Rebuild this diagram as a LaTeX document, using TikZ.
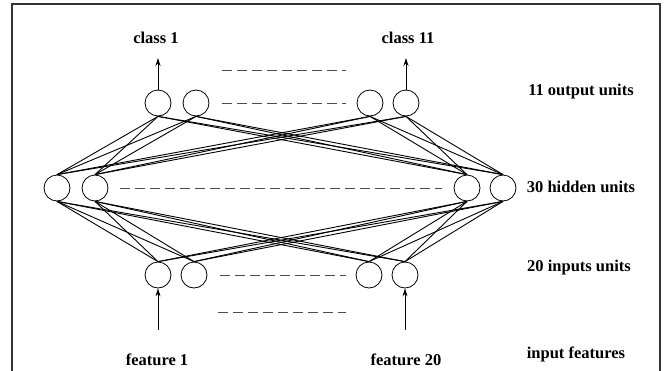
\documentclass[tikz,border=0pt]{standalone}
\usepackage{fontspec}
\setmainfont{Liberation Serif}
\usetikzlibrary{arrows.meta}
\begin{document}
\begin{tikzpicture}[x=1pt,y=-1pt,
  unit/.style={circle,draw,line width=0.8pt,minimum size=26pt,inner sep=0pt},
  link/.style={line width=0.9pt},
  io/.style={line width=0.8pt,-{Stealth[length=8pt,width=5pt]}},
  gap/.style={dashed,dash pattern=on 10pt off 5pt,line width=0.6pt,black!70},
  lbl/.style={font=\fontsize{16.5}{18}\selectfont\bfseries,inner sep=0pt}]
\useasboundingbox (0,0) rectangle (668,370);
% frame
\draw[line width=1.1pt,black!80] (12,372) -- (12,4) -- (660,4) -- (660,372);
% output layer
\node[unit] (o1) at (158,103) {};
\node[unit] (o2) at (196,103) {};
\node[unit] (o3) at (370,103) {};
\node[unit] (o4) at (406,103) {};
% hidden layer
\node[unit] (h1) at (57,188) {};
\node[unit] (h2) at (95,188) {};
\node[unit] (h3) at (467,188) {};
\node[unit] (h4) at (503,188) {};
% input layer
\node[unit] (i1) at (158,275) {};
\node[unit] (i2) at (194,275) {};
\node[unit] (i3) at (369,275) {};
\node[unit] (i4) at (405,275) {};
% full connections
\foreach \o in {o1,o2,o3,o4}
  \foreach \h in {h1,h2,h3,h4}
    \draw[link] (\o.south) -- (\h.north);
\foreach \i in {i1,i2,i3,i4}
  \foreach \h in {h1,h2,h3,h4}
    \draw[link] (\i.north) -- (\h.south);
% elided units
\coordinate (d1a) at (222,70);  \coordinate (d1b) at (346,70);
\coordinate (d2a) at (222,103); \coordinate (d2b) at (346,103);
\coordinate (d3a) at (120,188); \coordinate (d3b) at (442,188);
\coordinate (d4a) at (220,275); \coordinate (d4b) at (346,275);
\coordinate (d5a) at (218,312); \coordinate (d5b) at (346,312);
\draw[gap] (d1a) -- (d1b);
\draw[gap] (d2a) -- (d2b);
\draw[gap] (d3a) -- (d3b);
\draw[gap] (d4a) -- (d4b);
\draw[gap] (d5a) -- (d5b);
% outputs and inputs
\node[lbl] (c1) at (156,38) {class 1};
\node[lbl] (c11) at (408,38) {class 11};
\coordinate (c1a) at (158,58);
\coordinate (c11a) at (406,58);
\draw[io] (o1.north) -- (c1a);
\draw[io] (o4.north) -- (c11a);
\node[lbl] (f1) at (157,360) {feature 1};
\node[lbl] (f20) at (406,360) {feature 20};
\coordinate (f1a) at (158,330);
\coordinate (f20a) at (405,330);
\draw[io] (f1a) -- (i1.south);
\draw[io] (f20a) -- (i4.south);
% layer names
\node[lbl] (lo) at (581,92) {11 output units};
\node[lbl] (lh) at (581,187) {30 hidden units};
\node[lbl] (li) at (579,268) {20 inputs units};
\node[lbl] (lf) at (576,354) {input features};
\end{tikzpicture}
\end{document}
